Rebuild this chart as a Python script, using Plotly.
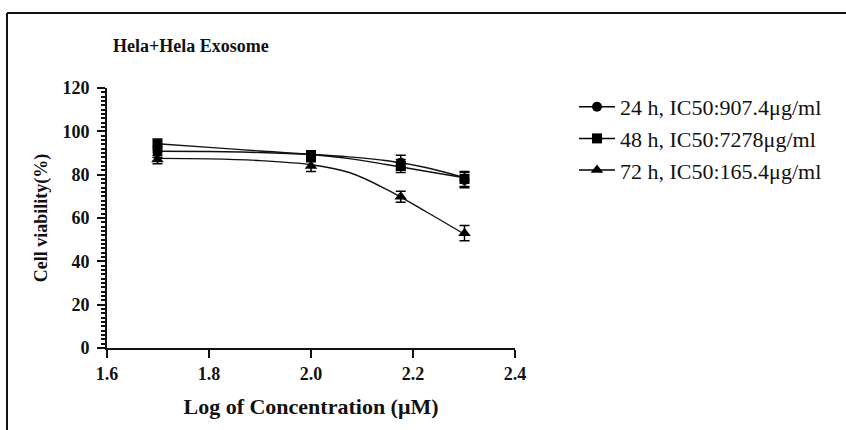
import plotly.graph_objects as go

# Measured viability (mean, error) at each log concentration
log_conc = [1.699, 2.0, 2.176, 2.301]
v24 = [90.5, 88.0, 85.5, 77.5]
e24 = [2.5, 2.0, 3.5, 3.5]
v48 = [94.0, 89.0, 84.0, 78.0]
e48 = [2.5, 2.0, 3.0, 3.5]
v72 = [87.0, 84.0, 69.8, 53.0]
e72 = [2.0, 2.5, 2.5, 3.5]

# Fitted dose-response curves
fit_x = [1.699, 1.8, 1.9, 2.0, 2.075, 2.15, 2.225, 2.301]
fit24 = [90.8, 90.7, 90.2, 89.3, 88.2, 86.4, 83.3, 78.6]
fit48 = [94.3, 92.6, 90.9, 89.3, 87.4, 84.6, 81.6, 78.6]
fit72 = [87.5, 87.3, 86.5, 84.6, 81.0, 73.0, 63.0, 52.5]

labels = ["24 h, IC50:907.4μg/ml", "48 h, IC50:7278μg/ml", "72 h, IC50:165.4μg/ml"]
symbols = ["circle", "square", "triangle-up"]
sizes = [10, 10, 11]

x_ticks = [1.6, 1.8, 2.0, 2.2, 2.4]
x_ticktext = ["1.6", "1.8", "2.0", "2.2", "2.4"]
y_ticks = [0, 20, 40, 60, 80, 100, 120]

SERIF = "Liberation Serif, Times New Roman, serif"
W, H = 846, 430
ML, MR, MT, MB = 107, 331, 88, 82

fig = go.Figure()

for vals, errs, fit, sym, sz in zip([v24, v48, v72], [e24, e48, e72],
                                     [fit24, fit48, fit72], symbols, sizes):
    fig.add_trace(go.Scatter(
        x=fit_x, y=fit, mode="lines",
        line=dict(color="#111", width=1.4, shape="spline", smoothing=1.0),
        showlegend=False, hoverinfo="skip"))
    fig.add_trace(go.Scatter(
        x=log_conc, y=vals, mode="markers",
        marker=dict(symbol=sym, size=sz, color="#000"),
        error_y=dict(type="data", array=errs, color="#000", thickness=1.5, width=5),
        showlegend=False))

for i, (lab, sym, sz) in enumerate(zip(labels, symbols, sizes)):
    fig.add_trace(go.Scatter(
        x=[None], y=[None], mode="lines+markers", name=lab,
        legendgroup=f"g{i}",
        line=dict(color="#000", width=1.5),
        marker=dict(symbol=sym, size=sz, color="#000")))

# Outer frame (top and left edges)
pw = W - ML - MR
ph = H - MT - MB
def px_x(p):
    return (p - ML) / pw
def px_y(p):
    return (H - MB - p) / ph

fig.add_shape(type="line", xref="paper", yref="paper",
              x0=px_x(7), x1=px_x(846), y0=px_y(13), y1=px_y(13),
              line=dict(color="#111", width=2))
fig.add_shape(type="line", xref="paper", yref="paper",
              x0=px_x(7), x1=px_x(7), y0=px_y(13), y1=px_y(430),
              line=dict(color="#111", width=2))

fig.add_annotation(text="<b>Hela+Hela Exosome</b>", xref="paper", yref="paper",
                   x=px_x(191), y=px_y(46), xanchor="center", yanchor="middle",
                   showarrow=False, font=dict(family=SERIF, size=18, color="#111"))

fig.update_layout(
    width=W, height=H,
    margin=dict(l=ML, r=MR, t=MT, b=MB),
    paper_bgcolor="white", plot_bgcolor="white",
    font=dict(family=SERIF, color="#111"),
    legend=dict(x=px_x(574), y=px_y(86), xanchor="left", yanchor="top",
                font=dict(family=SERIF, size=22, color="#111"),
                itemwidth=36, tracegroupgap=0, bgcolor="rgba(0,0,0,0)"),
    xaxis=dict(range=[1.6, 2.4], tickvals=x_ticks, ticktext=x_ticktext,
               showgrid=False, zeroline=False,
               showline=True, linecolor="#111", linewidth=2,
               ticks="outside", ticklen=8, tickwidth=2, tickcolor="#111",
               tickfont=dict(family=SERIF, size=18, color="#111", weight="bold"),
               title=dict(text="<b>Log of Concentration (μM)</b>",
                          font=dict(family=SERIF, size=22, color="#111"), standoff=16)),
    yaxis=dict(range=[0, 120], tickvals=y_ticks,
               showgrid=False, zeroline=False,
               showline=True, linecolor="#111", linewidth=2,
               ticks="outside", ticklen=8, tickwidth=2, tickcolor="#111",
               ticklabelstandoff=4,
               tickfont=dict(family=SERIF, size=18, color="#111", weight="bold"),
               minor=dict(dtick=2, ticks="outside", ticklen=4, tickwidth=1.5, tickcolor="#111"),
               title=dict(text="<b>Cell viability(%)</b>",
                          font=dict(family=SERIF, size=18, color="#111"), standoff=10)),
)

fig.write_html("out.html")
